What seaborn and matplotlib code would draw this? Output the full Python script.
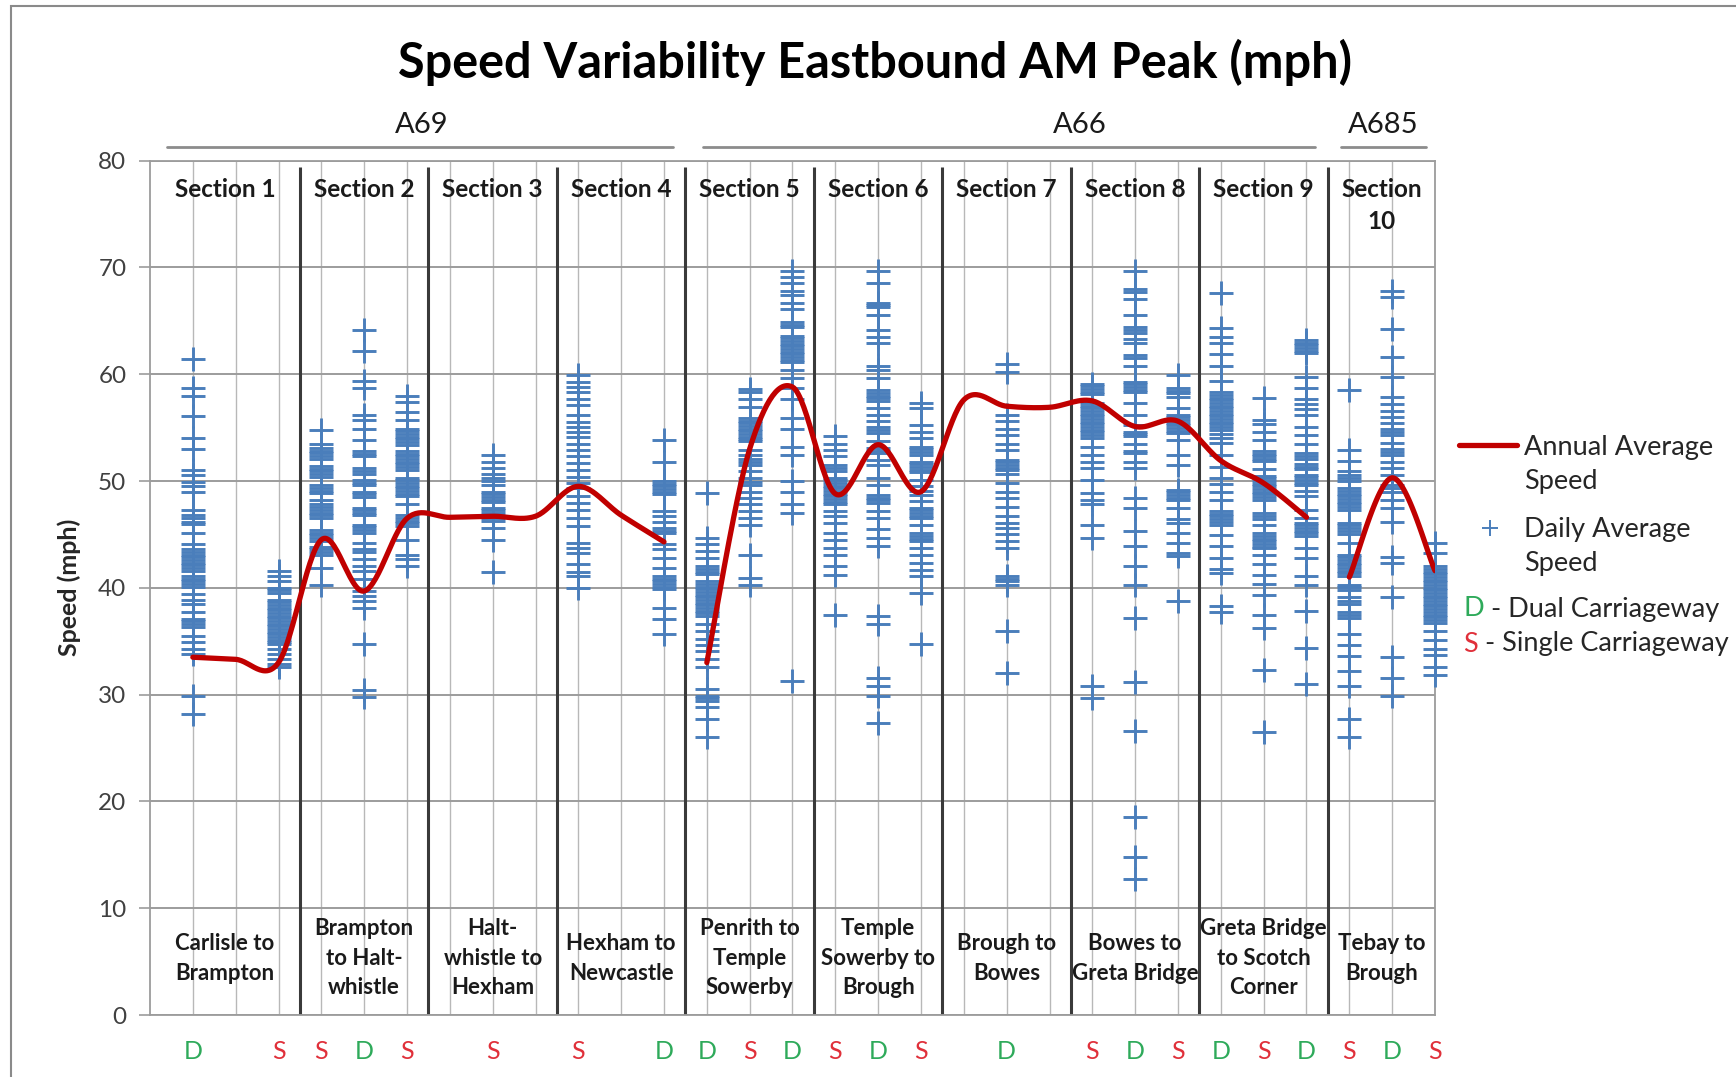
import numpy as np
import pandas as pd
import matplotlib
matplotlib.use("Agg")
import matplotlib.pyplot as plt
import matplotlib.transforms as mtransforms
from matplotlib.lines import Line2D
from matplotlib.patches import Rectangle
import seaborn as sns

# ---- data -----------------------------------------------------------------
# daily average speeds (mph) at each sub-position along the route (1..30)
p01 = [61.4, 58.7, 58.0, 56.1, 54.0, 53.0, 51.0, 50.6, 49.9, 49.5, 49.0, 47.3, 46.8, 46.5, 46.2, 46.0,
       45.1, 44.1, 43.6, 43.35, 43.1, 42.85, 42.6, 42.35, 42.1, 41.85, 41.6, 41.1, 40.85, 40.6, 40.35,
       40.1, 39.4, 38.9, 38.5, 37.7, 37.1, 36.85, 36.6, 36.35, 35.5, 34.9, 34.3, 33.8, 29.9, 28.2]
p03 = [41.6, 41.1, 40.6, 40.0, 39.75, 39.5, 38.9, 38.65, 38.4, 38.15, 37.9, 37.65, 37.4, 37.15, 36.9,
       36.65, 36.4, 36.15, 35.9, 35.65, 35.4, 35.15, 34.9, 34.7, 34.3, 33.8, 33.3, 32.9, 32.6]
p04 = [54.8, 53.5, 53.1, 52.85, 52.6, 52.35, 52.1, 51.4, 51.15, 50.9, 50.65, 50.4, 49.6, 49.35, 49.1,
       48.85, 48.2, 47.8, 47.55, 47.3, 47.05, 46.8, 46.55, 45.4, 45.15, 44.9, 44.65, 44.4, 43.85, 43.6,
       43.35, 43.1, 41.9, 40.3]
p05 = [64.1, 62.2, 59.4, 58.7, 56.2, 55.7, 54.9, 53.8, 52.8, 52.55, 52.3, 51.2, 50.95, 50.7, 50.1,
       49.85, 49.6, 49.0, 48.75, 48.5, 47.5, 47.25, 47.0, 46.8, 45.9, 45.65, 45.4, 45.15, 44.2, 43.6,
       43.35, 42.7, 42.0, 41.6, 40.8, 39.7, 39.2, 38.8, 38.1, 34.7, 30.4, 29.8]
p06 = [58.0, 57.4, 56.5, 55.7, 54.9, 54.65, 54.4, 54.15, 53.9, 53.65, 53.4, 52.8, 52.55, 52.3, 52.05,
       51.8, 51.55, 51.3, 51.05, 50.3, 50.05, 49.8, 49.55, 49.3, 49.05, 48.8, 48.55, 47.8, 46.8, 46.55,
       46.3, 46.05, 45.8, 44.5, 43.1, 42.7, 42.0]
p08 = [52.4, 51.8, 51.2, 50.7, 50.3, 50.0, 49.6, 49.0, 48.75, 48.5, 48.25, 48.0, 47.5, 47.25, 47.0,
       46.75, 46.5, 46.25, 45.6, 44.5, 41.5]
p10 = [59.9, 59.3, 58.8, 58.3, 57.7, 57.1, 56.2, 55.5, 55.1, 54.6, 54.1, 53.5, 52.9, 52.3, 51.7, 51.0,
       50.4, 49.8, 49.3, 48.6, 47.9, 47.3, 46.5, 45.8, 44.2, 43.7, 43.3, 42.2, 41.5, 41.1, 40.0]
p12 = [53.8, 51.8, 50.0, 49.75, 49.5, 49.25, 49.0, 48.75, 47.2, 46.7, 46.2, 45.6, 45.35, 45.1, 44.1,
       43.6, 42.8, 41.9, 41.1, 40.85, 40.6, 40.35, 40.1, 39.85, 38.1, 37.1, 35.7]
p13 = [48.9, 44.7, 44.1, 43.4, 42.8, 42.0, 41.75, 41.5, 41.3, 40.6, 40.35, 40.1, 39.85, 39.6, 39.35,
       39.1, 38.85, 38.6, 38.35, 38.1, 37.85, 37.6, 37.35, 36.6, 36.0, 35.2, 34.6, 34.1, 33.3, 32.6,
       30.5, 29.9, 29.65, 29.4, 28.8, 27.7, 26.0]
p14 = [58.6, 58.3, 57.7, 56.9, 55.9, 55.65, 55.4, 55.15, 54.9, 54.65, 54.4, 54.15, 53.9, 53.7, 52.9,
       52.4, 52.1, 51.8, 51.5, 50.9, 50.3, 49.95, 49.6, 49.0, 48.4, 47.8, 47.2, 46.5, 45.9, 43.1, 40.9,
       40.3]
p15 = [69.7, 69.1, 68.5, 67.8, 67.4, 66.7, 66.1, 64.9, 64.65, 64.4, 63.6, 63.35, 63.1, 62.85, 62.6,
       62.35, 62.1, 61.85, 61.6, 61.35, 61.1, 60.4, 59.6, 58.7, 57.7, 55.9, 54.9, 53.2, 52.4, 50.0,
       49.0, 47.8, 47.0, 31.3]
p16 = [54.2, 53.5, 52.9, 52.3, 51.5, 51.25, 50.9, 50.3, 50.05, 49.8, 49.55, 49.3, 49.05, 48.8, 48.55,
       48.3, 48.05, 47.8, 47.2, 46.7, 46.1, 45.1, 44.5, 43.7, 43.1, 42.0, 41.2, 37.5]
p17 = [69.7, 68.5, 66.7, 66.5, 66.3, 65.5, 64.1, 63.5, 62.9, 60.8, 60.4, 59.6, 58.5, 58.25, 58.0,
       57.75, 57.5, 56.8, 56.2, 55.6, 55.1, 54.8, 54.5, 53.7, 53.1, 52.85, 52.6, 52.0, 51.5, 50.3,
       49.6, 48.7, 48.45, 48.2, 47.95, 47.2, 46.5, 45.5, 44.7, 43.9, 37.4, 36.6, 31.6, 30.8, 29.9,
       27.3]
p18 = [57.3, 56.8, 55.2, 54.6, 54.0, 53.2, 52.95, 52.7, 52.45, 51.8, 51.55, 51.3, 51.05, 50.8, 50.1,
       49.5, 49.1, 48.7, 48.1, 47.5, 47.25, 47.0, 46.75, 46.5, 45.9, 45.1, 44.85, 44.6, 44.4, 43.7,
       43.1, 42.3, 41.7, 41.1, 39.5, 34.7]
p20 = [61.0, 60.2, 56.2, 55.6, 54.9, 54.3, 53.5, 52.9, 52.0, 51.75, 51.5, 51.25, 51.0, 50.7, 49.8,
       49.0, 48.4, 47.6, 46.7, 46.1, 45.6, 45.0, 44.4, 43.7, 41.1, 40.85, 40.6, 40.3, 36.0, 32.0]
p22 = [59.1, 58.85, 58.6, 58.35, 58.1, 57.3, 57.05, 56.8, 56.55, 56.3, 56.05, 55.8, 55.55, 55.3, 55.05,
       54.8, 54.55, 54.3, 54.05, 53.2, 52.4, 51.8, 51.2, 50.1, 48.9, 48.2, 47.8, 45.9, 44.7, 30.8, 29.7]
p23 = [69.7, 68.0, 67.7, 67.0, 65.5, 64.4, 64.15, 63.9, 63.3, 62.9, 61.8, 61.5, 60.8, 59.3, 59.05,
       58.8, 58.55, 58.3, 57.3, 56.2, 55.2, 54.6, 54.4, 54.2, 53.5, 52.8, 52.6, 51.8, 51.2, 48.4, 47.5,
       45.3, 43.9, 42.0, 40.3, 37.2, 31.2, 26.6, 18.5, 14.8, 12.7]
p24 = [59.9, 58.7, 58.45, 58.2, 57.9, 56.8, 56.2, 55.95, 55.7, 55.45, 55.2, 54.95, 54.7, 54.5, 53.8,
       52.4, 51.5, 49.2, 48.95, 48.7, 48.45, 48.2, 47.5, 46.4, 46.1, 45.1, 44.2, 43.3, 43.0, 38.8]
p25 = [67.6, 64.3, 63.5, 62.9, 61.9, 60.8, 59.4, 58.3, 58.05, 57.8, 57.55, 57.3, 57.05, 56.8, 56.55,
       56.3, 56.05, 55.8, 55.55, 55.3, 55.05, 54.8, 54.4, 54.0, 53.6, 52.4, 51.3, 50.3, 49.7, 49.0,
       48.2, 47.2, 46.95, 46.7, 46.45, 46.2, 45.9, 44.9, 43.9, 42.8, 41.8, 41.4, 38.3, 37.7]
p26 = [57.8, 55.7, 55.3, 54.6, 53.8, 52.8, 52.55, 52.3, 52.05, 51.9, 51.1, 50.5, 50.25, 50.0, 49.75,
       49.5, 49.25, 49.0, 48.75, 48.5, 48.2, 47.0, 46.7, 46.4, 45.9, 45.1, 44.85, 44.6, 44.35, 44.1,
       43.85, 43.7, 43.1, 42.2, 41.2, 40.4, 39.3, 37.5, 36.2, 32.3, 26.5]
p27 = [63.2, 62.95, 62.7, 62.45, 62.2, 61.95, 59.7, 58.7, 57.7, 57.2, 56.7, 56.2, 55.1, 54.3, 53.5,
       52.6, 52.35, 52.1, 51.6, 51.35, 51.1, 50.6, 50.35, 50.1, 49.85, 49.6, 49.1, 48.6, 47.3, 46.5,
       46.1, 45.85, 45.6, 45.35, 45.1, 44.85, 43.7, 42.8, 41.1, 40.3, 37.8, 34.4, 31.0]
p28 = [58.5, 52.9, 51.9, 50.9, 50.6, 50.3, 50.0, 49.3, 49.05, 48.8, 48.55, 48.3, 48.05, 47.8, 47.55,
       47.3, 46.1, 45.85, 45.6, 45.3, 45.0, 44.2, 43.1, 42.85, 42.6, 42.35, 42.1, 41.85, 41.6, 41.35,
       41.1, 40.3, 40.05, 39.8, 39.1, 38.8, 38.5, 37.7, 37.45, 37.2, 35.7, 34.6, 33.6, 32.2, 30.8,
       27.7, 26.0]
p29 = [67.8, 67.2, 64.2, 61.6, 59.7, 57.9, 57.2, 56.6, 56.0, 55.4, 54.9, 54.6, 54.3, 53.6, 53.0, 52.7,
       52.4, 51.8, 51.2, 50.6, 49.6, 49.3, 49.0, 48.2, 47.5, 46.2, 42.9, 42.3, 39.1, 33.5, 31.6, 29.9]
p30 = [44.2, 43.3, 42.0, 41.75, 41.5, 41.25, 41.0, 40.75, 40.5, 40.25, 40.0, 39.75, 39.5, 39.25, 39.0,
       38.75, 38.5, 38.25, 38.0, 37.75, 37.5, 37.25, 37.0, 36.75, 36.0, 35.1, 34.3, 33.7, 32.6, 31.8]

daily_positions = [1, 3, 4, 5, 6, 8, 10, 12, 13, 14, 15, 16, 17, 18, 20, 22, 23, 24, 25, 26, 27, 28, 29, 30]
daily_series = [p01, p03, p04, p05, p06, p08, p10, p12, p13, p14, p15, p16, p17, p18, p20, p22, p23,
                p24, p25, p26, p27, p28, p29, p30]

# annual average speed, one continuous line per road
a69_pos = list(range(1, 13))
a69_avg = [33.5, 33.3, 33.0, 44.5, 39.7, 46.5, 46.6, 46.7, 46.7, 49.5, 46.8, 44.3]
a66_pos = list(range(13, 28))
a66_avg = [33.0, 53.0, 58.8, 48.8, 53.4, 49.0, 57.6, 57.0, 56.9, 57.5, 55.1, 55.6, 51.9, 49.8, 46.6]
a685_pos = [28, 29, 30]
a685_avg = [41.0, 50.3, 41.6]

# carriageway type under the axis
cw_letters = ["D", "S", "S", "D", "S", "S", "S", "D", "D", "S", "D", "S", "D", "S", "D", "S", "D", "S",
              "D", "S", "D", "S", "D", "S"]

section_edges = [0, 3.5, 6.5, 9.5, 12.5, 15.5, 18.5, 21.5, 24.5, 27.5, 30]
section_titles = ["Section 1", "Section 2", "Section 3", "Section 4", "Section 5", "Section 6",
                  "Section 7", "Section 8", "Section 9", "Section\n10"]
section_routes = ["Carlisle to\nBrampton", "Brampton\nto Halt-\nwhistle", "Halt-\nwhistle to\nHexham",
                  "Hexham to\nNewcastle", "Penrith to\nTemple\nSowerby", "Temple\nSowerby to\nBrough",
                  "Brough to\nBowes", "Bowes to\nGreta Bridge", "Greta Bridge\nto Scotch\nCorner",
                  "Tebay to\nBrough"]

road_names = ["A69", "A66", "A685"]
road_start = [0.4, 12.9, 27.8]
road_end = [12.2, 27.2, 29.8]
road_label_x = [6.35, 21.7, 28.8]

BLUE = "#4A7EBB"
RED = "#C00000"
GREEN = "#2EAA5A"
SRED = "#E0303A"
TYPE_COL = {"D": GREEN, "S": SRED}


def smooth_line(xs, ys, steps=30):
    # Excel-style smoothed line (cubic bezier, control points at 1/6 of neighbour span)
    xs = np.asarray(xs, float)
    ys = np.asarray(ys, float)
    n = len(xs)
    out_x, out_y = [], []
    for i in range(n - 1):
        i0, i3 = max(i - 1, 0), min(i + 2, n - 1)
        c1x = xs[i] + (xs[i + 1] - xs[i0]) / 6
        c1y = ys[i] + (ys[i + 1] - ys[i0]) / 6
        c2x = xs[i + 1] - (xs[i3] - xs[i]) / 6
        c2y = ys[i + 1] - (ys[i3] - ys[i]) / 6
        t = np.linspace(0, 1, steps, endpoint=(i == n - 2))
        b0, b1, b2, b3 = (1 - t) ** 3, 3 * t * (1 - t) ** 2, 3 * t ** 2 * (1 - t), t ** 3
        out_x.append(b0 * xs[i] + b1 * c1x + b2 * c2x + b3 * xs[i + 1])
        out_y.append(b0 * ys[i] + b1 * c1y + b2 * c2y + b3 * ys[i + 1])
    return np.concatenate(out_x), np.concatenate(out_y)


rows = [(p, v) for p, vals in zip(daily_positions, daily_series) for v in vals]
daily = pd.DataFrame(rows, columns=["position", "speed"])

sns.set_theme(style="white")
plt.rcParams["font.family"] = ["Lato", "DejaVu Sans"]
plt.rcParams["text.color"] = "#1a1a1a"

W, H = 1736, 1077
fig = plt.figure(figsize=(W / 100, H / 100), dpi=100)
ax = fig.add_axes([150 / W, 1 - 1015 / H, 1285 / W, (1015 - 160.6) / H])

sns.scatterplot(data=daily, x="position", y="speed", marker="+", s=290, linewidth=2.1,
                color=BLUE, ax=ax, legend=False, zorder=3, clip_on=False)

for pos, avg in [(a69_pos, a69_avg), (a66_pos, a66_avg), (a685_pos, a685_avg)]:
    sx, sy = smooth_line(pos, avg)
    sns.lineplot(x=sx, y=sy, sort=False, estimator=None, color=RED, linewidth=3.8, ax=ax, zorder=4)

ax.set_xlim(0, 30)
ax.set_ylim(0, 80)
ax.set_xticks(range(1, 31))
ax.set_xticklabels([])
ax.set_yticks(range(0, 81, 10))
ax.set_xlabel("")
ax.set_axisbelow(True)
ax.yaxis.grid(True, color="#9c9c9c", lw=1.4)
ax.xaxis.grid(True, color="#b8b8b8", lw=1.0)
for sp in ax.spines.values():
    sp.set_color("#9c9c9c")
    sp.set_linewidth(1.3)
ax.tick_params(axis="x", length=0)
ax.tick_params(axis="y", left=True, length=8, width=1.2, color="#9c9c9c", pad=9,
               labelsize=17.5, labelcolor="#404040")
ax.set_ylabel("Speed (mph)", fontsize=18, fontweight="bold")
ax.yaxis.set_label_coords(-0.054, 0.5)

# section dividers
ax.vlines(section_edges[1:-1], 0, 79.4, color="#3a3a3a", lw=2.2, zorder=2)

mids = [(a + b) / 2 for a, b in zip(section_edges[:-1], section_edges[1:])]
for m, title, route in zip(mids, section_titles, section_routes):
    ax.text(m, 78.4, title, ha="center", va="top", fontsize=17.5, fontweight="bold",
            linespacing=1.5, zorder=5)
    ax.text(m, 5.3, route, ha="center", va="center", fontsize=16, fontweight="bold",
            linespacing=1.5, zorder=5)

trans = mtransforms.blended_transform_factory(ax.transData, ax.transAxes)
for p, letter in zip(daily_positions, cw_letters):
    ax.text(p, -0.043, letter, transform=trans, ha="center", va="center", fontsize=18,
            color=TYPE_COL[letter], clip_on=False)

for name, a, b, lx in zip(road_names, road_start, road_end, road_label_x):
    ax.plot([a, b], [1.016, 1.016], transform=trans, color="#8c8c8c", lw=2, clip_on=False)
    ax.text(lx, 1.042, name, transform=trans, ha="center", va="center", fontsize=21,
            color="#1a1a1a", clip_on=False)

fig.text(875 / W, 1 - 62 / H, "Speed Variability Eastbound AM Peak (mph)", ha="center",
         va="center", fontsize=35, fontweight="bold", color="black")

# legend, drawn to match the original layout
fig.add_artist(Line2D([1459 / W, 1517 / W], [1 - 445 / H] * 2, color=RED, lw=3.8,
                      transform=fig.transFigure))
fig.text(1524 / W, 1 - 464 / H, "Annual Average\nSpeed", ha="left", va="center", fontsize=19.5,
         linespacing=1.45, color="#262626")
fig.add_artist(Line2D([1490 / W], [1 - 528 / H], marker="+", markersize=11, mew=1.4, color=BLUE,
                      linestyle="none", transform=fig.transFigure))
fig.text(1524 / W, 1 - 547 / H, "Daily Average\nSpeed", ha="left", va="center", fontsize=19.5,
         linespacing=1.45, color="#262626")
for letter, desc, y in [("D", " - Dual Carriageway", 609), ("S", " - Single Carriageway", 644)]:
    t = fig.text(1463 / W, 1 - y / H, letter, ha="left", va="center", fontsize=19.5,
                 color=TYPE_COL[letter])
    ax.annotate(desc, xy=(1, 0.5), xycoords=t, ha="left", va="center", fontsize=19.5,
                color="#262626", annotation_clip=False)

# chart-area frame
fig.add_artist(Rectangle((11 / W, -0.1), 1.2, 1 - 6 / H + 0.1, fill=False, ec="#8a8a8a", lw=1.5,
                         transform=fig.transFigure))

fig.savefig("out.png", dpi=100)
